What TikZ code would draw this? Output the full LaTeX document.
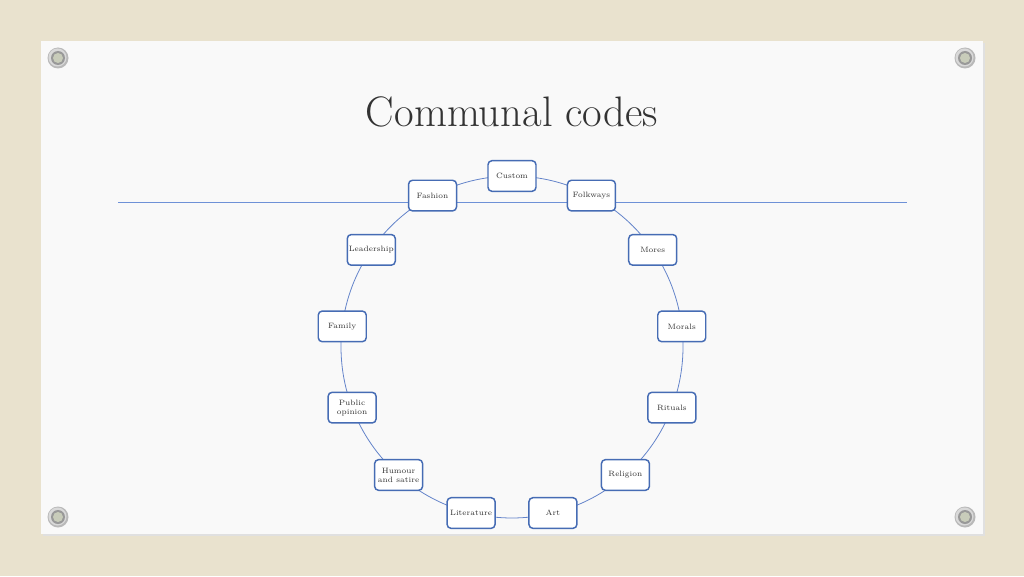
\documentclass[tikz,border=0pt]{standalone}
\usepackage{xcolor}
\usepackage{tikz}
\usetikzlibrary{positioning, calc}
\definecolor{canvas}{RGB}{233,226,206}
\definecolor{slidewhite}{RGB}{249,249,249}
\definecolor{codeblue}{RGB}{70,108,180}
\definecolor{ringblue}{RGB}{100,132,202}
\definecolor{rulerblue}{RGB}{110,145,215}
\definecolor{screwcore}{RGB}{200,204,186}

\begin{document}
\begin{tikzpicture}[
    x=0.75pt, y=0.75pt,
    codebox/.style={rectangle, rounded corners=3pt, draw=codeblue, line width=1.1pt, fill=white, minimum width=36pt, minimum height=23pt, inner sep=1pt, align=center, text=black!80, font=\fontsize{5.8}{6.8}\selectfont},
    link/.style={draw=ringblue, line width=0.6pt},
    titlerule/.style={draw=rulerblue, line width=0.75pt}
]
    % canvas and slide
    \fill[canvas] (0,0) rectangle (1024,576);
    \fill[black!12] (43,40) rectangle (985,533);
    \fill[slidewhite] (41,42) rectangle (983,535);

    % screws
    \foreach \sx/\sy in {58/518, 965/518, 58/59, 965/59} {
        \fill[gray!55] (\sx,\sy) circle (10.5);
        \fill[gray!30] (\sx-0.5,\sy+0.5) circle (9);
        \fill[gray!80] (\sx,\sy) circle (7);
        \fill[screwcore] (\sx,\sy) circle (5);
    }

    \node[anchor=base, text=black!80, font=\fontsize{32}{36}\selectfont] (title) at (512,450) {Communal codes};

    \coordinate (ruleL) at (118,373.5);
    \coordinate (ruleR) at (907,373.5);
    \draw[titlerule] (ruleL) -- (ruleR);

    % ring of codes
    \foreach \i in {0,...,12} {
        \pgfmathsetmacro\ang{90-\i*360/13}
        \coordinate (p\i) at ($(512,229)+(\ang:171)$);
    }
    \foreach \i in {0,...,12} {
        \pgfmathsetmacro\ang{90-\i*360/13}
        \draw[link] (p\i) arc[start angle=\ang, delta angle=-360/13, radius=171];
    }
    \foreach \lab [count=\i from 0] in {Custom, Folkways, Mores, Morals, Rituals, Religion, Art, Literature, {Humour\\and satire}, {Public\\opinion}, Family, Leadership, Fashion}
        \node[codebox] (c\i) at (p\i) {\lab};
\end{tikzpicture}
\end{document}
